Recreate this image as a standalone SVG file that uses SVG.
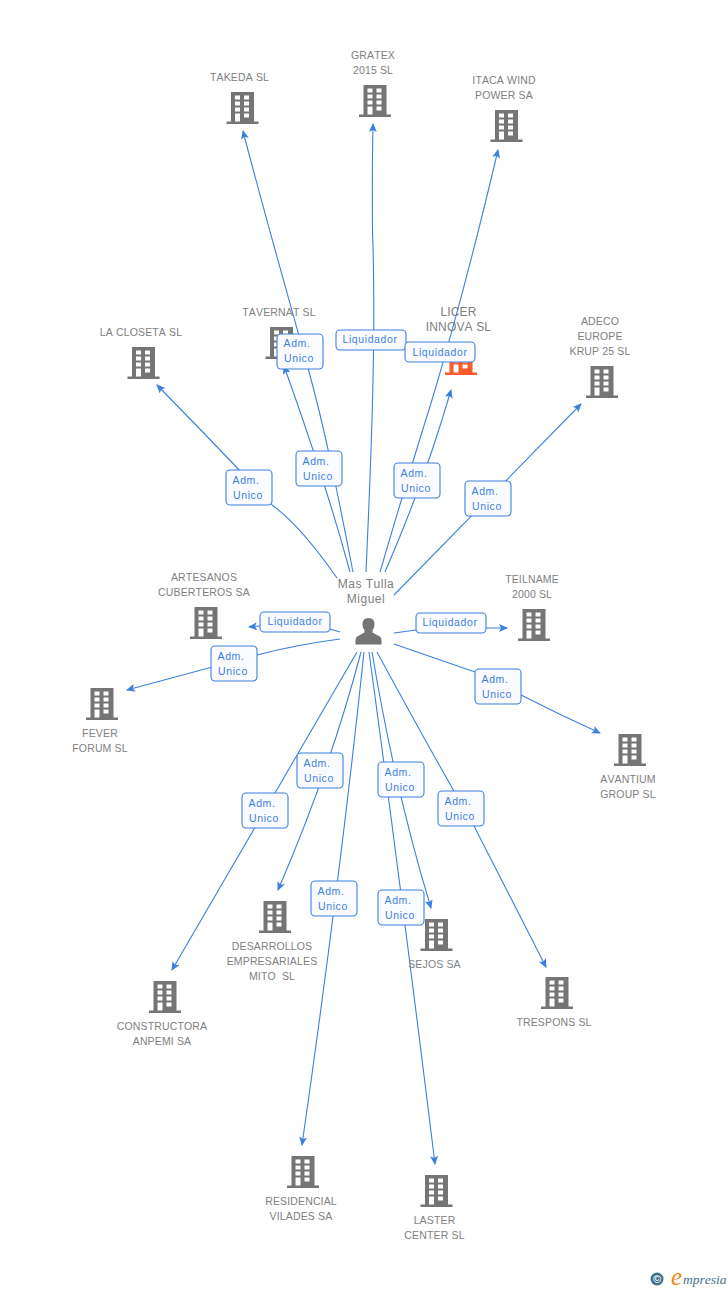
<svg xmlns="http://www.w3.org/2000/svg" width="728" height="1290" viewBox="0 0 728 1290">
<style>
text{font-family:"Liberation Sans",Arial,sans-serif;font-kerning:none}
.n{font-size:10.5px;fill:#808080;text-anchor:middle;letter-spacing:.15px;white-space:pre}
.l{font-size:10.5px;fill:#3c80de;text-anchor:middle;letter-spacing:.6px}
.c{fill:none;stroke:#3c80de;stroke-width:1.1}
.b{fill:#fafbfe;stroke:#3c80de;stroke-width:1.1}
</style>
<defs>
<marker id="a" markerWidth="10" markerHeight="10" refX="8" refY="4" orient="auto" markerUnits="userSpaceOnUse"><path d="M0 0L9 4L0 8L2 4Z" fill="#3c80de"/></marker>
<symbol id="bld" overflow="visible"><path fill-rule="evenodd" d="M-11.5-16H11.5V13.5H16V16H-16V13.5H-11.5ZM-7.500-12.500V-8.500H-2.500V-12.500ZM1.500-12.500V-8.500H6.500V-12.500ZM-7.500-6.500V-2.500H-2.500V-6.500ZM1.500-6.500V-2.500H6.500V-6.500ZM-7.500-.5V3.500H-2.500V-.5ZM1.500-.5V3.500H6.500V-.5ZM-7.500 5.500V13.500H-2.500V5.500ZM1.500 5.500V9.500H6.500V5.500Z"/></symbol>
</defs>
<g id="connectors">
<path class="c" marker-end="url(#a)" d="M353 572C335 480 325 430 308 368C285 285 262 205 243 131"/>
<path class="c" marker-end="url(#a)" d="M350 572Q325 480 284 366"/>
<path class="c" marker-end="url(#a)" d="M366 572C372 440 376 330 372.500 230Q372 170 373 124"/>
<path class="c" marker-end="url(#a)" d="M380 572Q410 470 432 400Q465 290 498 150"/>
<path class="c" marker-end="url(#a)" d="M385 572Q425 480 451 390"/>
<path class="c" marker-end="url(#a)" d="M394 595L581 404"/>
<path class="c" marker-end="url(#a)" d="M337 578Q300 525 272 505Q240 470 157 385"/>
<path class="c" marker-end="url(#a)" d="M340 632L330 629M260 626L249 627"/>
<path class="c" marker-end="url(#a)" d="M340 639Q295 645 257 655L127 690"/>
<path class="c" marker-end="url(#a)" d="M394 633L416 630M486 628L507 628"/>
<path class="c" marker-end="url(#a)" d="M394 644Q440 660 475 672M521 695Q560 715 600 733"/>
<path class="c" marker-end="url(#a)" d="M357 652L172 970"/>
<path class="c" marker-end="url(#a)" d="M361 652Q330 770 278 890"/>
<path class="c" marker-end="url(#a)" d="M364 652Q340 880 302 1145"/>
<path class="c" marker-end="url(#a)" d="M369 652Q400 880 435 1164"/>
<path class="c" marker-end="url(#a)" d="M372 652Q395 790 431 908"/>
<path class="c" marker-end="url(#a)" d="M377 652Q430 750 474 826L546 967"/>
</g>
<g id="n-takeda" fill="#757575"><text class="n" x="239.500" y="81">TAKEDA SL</text><use href="#bld" x="242.500" y="108"/></g>
<g id="n-gratex" fill="#757575"><text class="n" x="373" y="59">GRATEX</text><text class="n" x="373" y="74">2015 SL</text><use href="#bld" x="375" y="101"/></g>
<g id="n-itaca" fill="#757575"><text class="n" x="504" y="84">ITACA WIND</text><text class="n" x="504" y="99">POWER SA</text><use href="#bld" x="506.500" y="126"/></g>
<g id="n-closeta" fill="#757575"><text class="n" x="141" y="336">LA CLOSETA SL</text><use href="#bld" x="143.500" y="363"/></g>
<g id="n-tavernat" fill="#757575"><text class="n" x="279" y="316">TAVERNAT SL</text><use href="#bld" x="281.500" y="343"/></g>
<g id="n-licer" fill="#ff5a2b"><text class="n" x="458.500" y="316" style="font-size:12px">LICER</text><text class="n" x="458.500" y="331" style="font-size:12px">INNOVA SL</text><use href="#bld" x="461" y="359"/></g>
<g id="n-adeco" fill="#757575"><text class="n" x="600" y="325">ADECO</text><text class="n" x="600" y="340">EUROPE</text><text class="n" x="600" y="355">KRUP 25 SL</text><use href="#bld" x="602" y="382"/></g>
<g id="n-artesanos" fill="#757575"><text class="n" x="204" y="581">ARTESANOS</text><text class="n" x="204" y="596">CUBERTEROS SA</text><use href="#bld" x="206" y="623"/></g>
<g id="n-teilname" fill="#757575"><text class="n" x="532" y="583">TEILNAME</text><text class="n" x="532" y="598">2000 SL</text><use href="#bld" x="534" y="625"/></g>
<g id="n-fever" fill="#757575"><use href="#bld" x="102" y="704"/><text class="n" x="100" y="737">FEVER</text><text class="n" x="100" y="752">FORUM SL</text></g>
<g id="n-avantium" fill="#757575"><use href="#bld" x="630" y="750"/><text class="n" x="628" y="783">AVANTIUM</text><text class="n" x="628" y="798">GROUP SL</text></g>
<g id="n-desarrollos" fill="#757575"><use href="#bld" x="275" y="917"/><text class="n" x="272" y="950">DESARROLLOS</text><text class="n" x="272" y="965">EMPRESARIALES</text><text class="n" x="272" y="980">MITO  SL</text></g>
<g id="n-sejos" fill="#757575"><use href="#bld" x="436.500" y="935"/><text class="n" x="434.500" y="968">SEJOS SA</text></g>
<g id="n-constructora" fill="#757575"><use href="#bld" x="165" y="997"/><text class="n" x="162" y="1030">CONSTRUCTORA</text><text class="n" x="162" y="1045">ANPEMI SA</text></g>
<g id="n-trespons" fill="#757575"><use href="#bld" x="557" y="993"/><text class="n" x="554" y="1026">TRESPONS SL</text></g>
<g id="n-residencial" fill="#757575"><use href="#bld" x="303" y="1172"/><text class="n" x="301" y="1205">RESIDENCIAL</text><text class="n" x="301" y="1220">VILADES SA</text></g>
<g id="n-laster" fill="#757575"><use href="#bld" x="436.500" y="1191"/><text class="n" x="434.500" y="1224">LASTER</text><text class="n" x="434.500" y="1239">CENTER SL</text></g>
<g id="n-person"><text class="n" x="366" y="588" style="font-size:12px;letter-spacing:.5px">Mas Tulla</text><text class="n" x="366" y="603" style="font-size:12px;letter-spacing:.5px">Miguel</text><path fill="#757575" d="M355.500 644.500V640Q355.500 636.500 360 635L364.500 632.500V630Q362.500 628 362.500 624Q362.500 618 368.500 618T374.500 624Q374.500 628 372.500 630V632.500L377 635Q381.500 636.500 381.500 640V644.500Z"/></g>
<g id="labels">
<g id="e1"><rect class="b" x="277" y="334" width="46" height="35" rx="4"/><text class="l" x="297" y="347">Adm.</text><text class="l" x="299" y="362">Unico</text></g>
<g id="e2"><rect class="b" x="296" y="451" width="46" height="35" rx="4"/><text class="l" x="316" y="465">Adm.</text><text class="l" x="318" y="480">Unico</text></g>
<g id="e3"><rect class="b" x="226" y="470" width="46" height="35" rx="4"/><text class="l" x="246" y="484">Adm.</text><text class="l" x="248" y="499">Unico</text></g>
<g id="e4"><rect class="b" x="394" y="463" width="46" height="35" rx="4"/><text class="l" x="414" y="477">Adm.</text><text class="l" x="416" y="492">Unico</text></g>
<g id="e5"><rect class="b" x="465" y="481" width="46" height="35" rx="4"/><text class="l" x="485" y="495">Adm.</text><text class="l" x="487" y="510">Unico</text></g>
<g id="e6"><rect class="b" x="211" y="646" width="46" height="35" rx="4"/><text class="l" x="231" y="660">Adm.</text><text class="l" x="233" y="675">Unico</text></g>
<g id="e7"><rect class="b" x="475" y="669" width="46" height="35" rx="4"/><text class="l" x="495" y="683">Adm.</text><text class="l" x="497" y="698">Unico</text></g>
<g id="e8"><rect class="b" x="297" y="753" width="46" height="35" rx="4"/><text class="l" x="317" y="767">Adm.</text><text class="l" x="319" y="782">Unico</text></g>
<g id="e9"><rect class="b" x="242" y="793" width="46" height="35" rx="4"/><text class="l" x="262" y="807">Adm.</text><text class="l" x="264" y="822">Unico</text></g>
<g id="e10"><rect class="b" x="378" y="762" width="46" height="35" rx="4"/><text class="l" x="398" y="776">Adm.</text><text class="l" x="400" y="791">Unico</text></g>
<g id="e11"><rect class="b" x="438" y="791" width="46" height="35" rx="4"/><text class="l" x="458" y="805">Adm.</text><text class="l" x="460" y="820">Unico</text></g>
<g id="e12"><rect class="b" x="311" y="881" width="46" height="35" rx="4"/><text class="l" x="331" y="895">Adm.</text><text class="l" x="333" y="910">Unico</text></g>
<g id="e13"><rect class="b" x="378" y="890" width="46" height="35" rx="4"/><text class="l" x="398" y="904">Adm.</text><text class="l" x="400" y="919">Unico</text></g>
<g id="e14"><rect class="b" x="336" y="330" width="70" height="20" rx="4"/><text class="l" x="370" y="343">Liquidador</text></g>
<g id="e15"><rect class="b" x="405" y="342" width="70" height="20" rx="4"/><text class="l" x="440" y="356">Liquidador</text></g>
<g id="e16"><rect class="b" x="260" y="612" width="70" height="20" rx="4"/><text class="l" x="295" y="625">Liquidador</text></g>
<g id="e17"><rect class="b" x="416" y="613" width="70" height="20" rx="4"/><text class="l" x="450" y="626">Liquidador</text></g>
</g>
<g id="logo"><circle cx="657" cy="1279" r="6.500" fill="#3f6f8c"/><text x="657" y="1283" text-anchor="middle" style="font-size:11px;font-weight:bold" fill="#fff">©</text><text x="671" y="1285" style="font-size:25px;font-family:'Liberation Serif',serif;font-style:italic" fill="#f08a24">e</text><text x="683" y="1284" style="font-size:13.500px;font-family:'Liberation Serif',serif;font-style:italic" fill="#3f6f8c">mpresia</text></g>
</svg>
